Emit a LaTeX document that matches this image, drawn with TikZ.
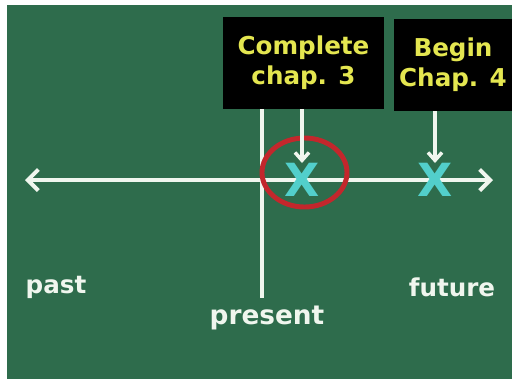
\documentclass[tikz,border=0pt]{standalone}
\usepackage{fontspec}
\setmainfont{DejaVu Sans}
\usetikzlibrary{arrows.meta}
\definecolor{board}{HTML}{2E6C4C}
\definecolor{chalk}{HTML}{F0F6EE}
\definecolor{signtext}{HTML}{E4E650}
\definecolor{mark}{HTML}{52CFCB}
\definecolor{ring}{HTML}{C3272C}

\begin{document}
\begin{tikzpicture}[x=0.02cm, y=-0.02cm,
every node/.style = {align=center, inner sep=0pt},
sign/.style = {fill=black, text=signtext, minimum height=1.84cm,
  font=\fontsize{14}{17}\selectfont\bfseries},
cross/.style = {text=mark, font=\fontsize{26}{26}\selectfont\bfseries},
word/.style = {text=chalk, font=\fontsize{14}{16}\selectfont\bfseries},
chalkline/.style = {draw=chalk, line width=2.3pt},
pointer/.style = {chalkline, line width=2pt, -{Straight Barb[length=4.5pt, width=8pt]}},
timeline/.style = {chalkline,
  {Straight Barb[length=6pt, width=12pt]}-{Straight Barb[length=6pt, width=12pt]}}
]
\useasboundingbox (0,0) rectangle (517,383);
\fill[board] (7,5) rectangle (512,379);

\coordinate (pastend) at (25,180);
\coordinate (futureend) at (493,180);
\draw[timeline] (pastend) -- (futureend);

\node[sign, minimum width=3.22cm] (complete) at (303.5,63) {Complete\\chap. 3};
\node[sign, minimum width=2.36cm] (begin) at (453,65) {Begin\\Chap. 4};

\coordinate (nowtop) at (262,109);
\coordinate (nowbot) at (262,298);
\draw[chalkline] (nowtop) -- (nowbot);

\node[cross] (xnow) at (302,180) {X};
\node[cross] (xnext) at (435,180) {X};
\draw[ring, line width=2.8pt] (304.5,172.5) ellipse (42.5 and 34.5);

\draw[pointer] (complete.south -| xnow) -- (xnow.north);
\draw[pointer] (begin.south -| xnext) -- (xnext.north);

\node[word] (past) at (56,287) {past};
\node[word] (future) at (452,287) {future};
\node[word, font=\fontsize{15}{17}\selectfont\bfseries] (present) at (267,318) {present};

\end{tikzpicture}
\end{document}
